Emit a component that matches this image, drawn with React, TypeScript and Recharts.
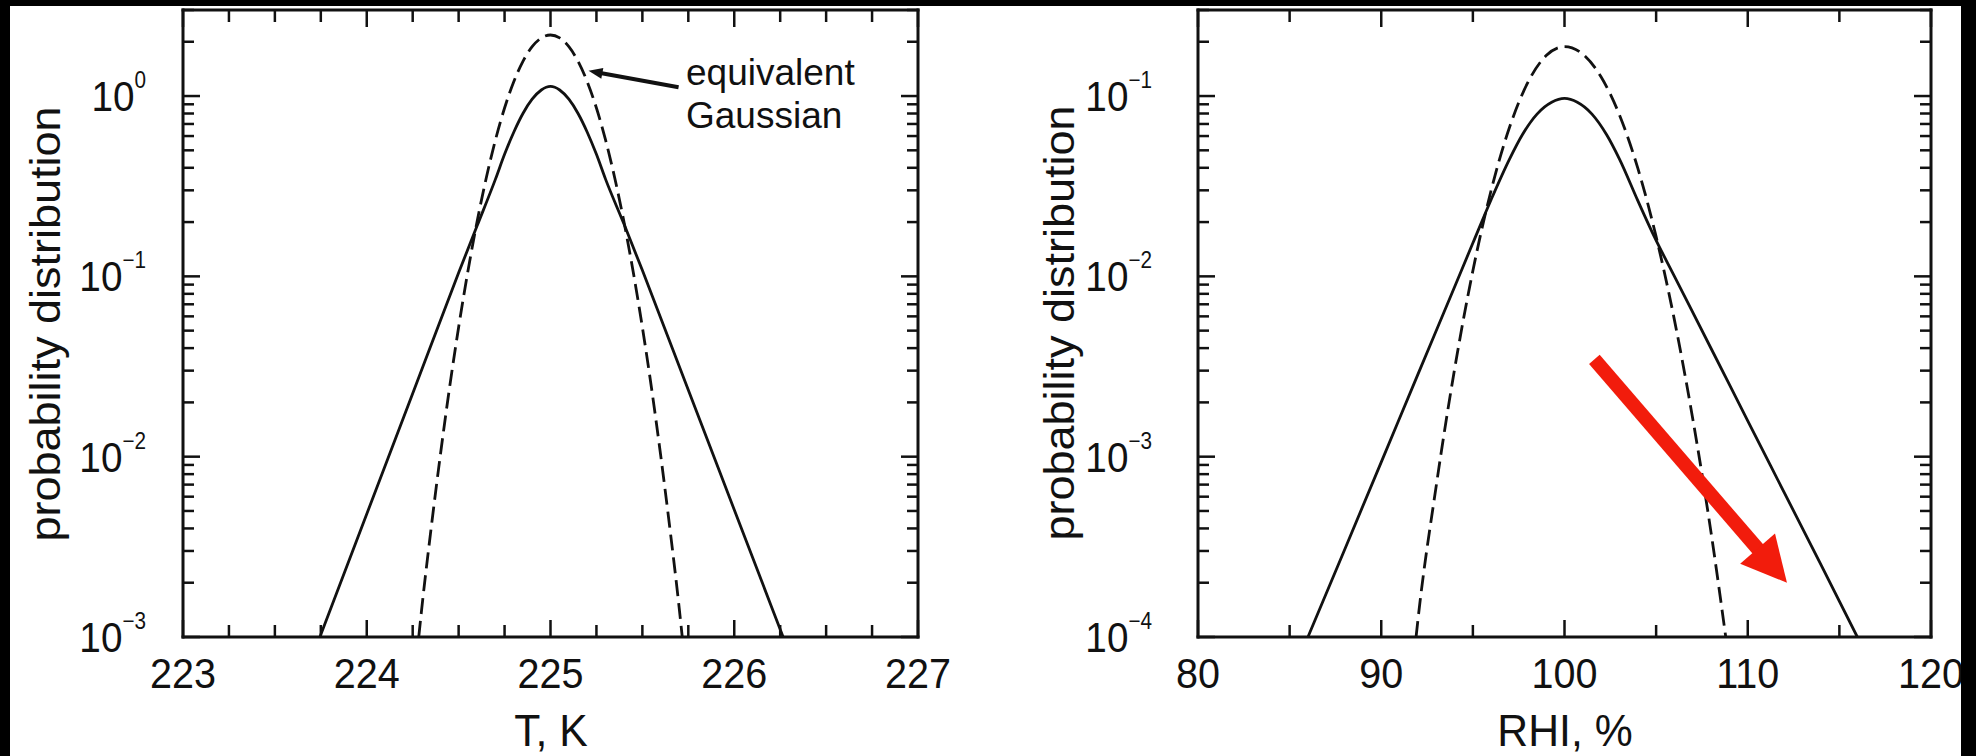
import { LineChart, Line, XAxis, YAxis, ReferenceLine } from "recharts";

// ---- data ----
const tTicks = [223, 223.25, 223.5, 223.75, 224, 224.25, 224.5, 224.75, 225, 225.25, 225.5, 225.75, 226, 226.25, 226.5, 226.75, 227];
const tYTicks = [0.001, 0.002, 0.003, 0.004, 0.005, 0.006, 0.007, 0.008, 0.009, 0.01, 0.02, 0.03, 0.04, 0.05, 0.06, 0.07, 0.08, 0.09, 0.1, 0.2, 0.3, 0.4, 0.5, 0.6, 0.7, 0.8, 0.9, 1, 2, 3];

const tSolidX = [223.745, 224.0, 224.25, 224.5, 224.6, 224.7, 224.75, 224.8, 224.85, 224.9, 224.95, 225.0, 225.05, 225.1, 225.15, 225.2, 225.25, 225.3, 225.4, 225.5, 225.75, 226.0, 226.266];
const tSolidP = [0.001, 0.00481, 0.0224, 0.1047, 0.19, 0.345, 0.475, 0.63, 0.8, 0.96, 1.08, 1.13, 1.08, 0.96, 0.8, 0.63, 0.475, 0.345, 0.195, 0.108, 0.0234, 0.00508, 0.001];

const tGaussX = [224.283, 224.3, 224.35, 224.4, 224.45, 224.5, 224.55, 224.6, 224.65, 224.7, 224.75, 224.8, 224.85, 224.9, 224.95, 225.0, 225.05, 225.1, 225.15, 225.2, 225.25, 225.3, 225.35, 225.4, 225.45, 225.5, 225.55, 225.6, 225.65, 225.7, 225.717];
const tGaussP = [0.001, 0.00146, 0.00398, 0.0101, 0.0239, 0.0522, 0.106, 0.2, 0.35, 0.569, 0.858, 1.2, 1.558, 1.878, 2.1, 2.18, 2.1, 1.878, 1.558, 1.2, 0.858, 0.569, 0.35, 0.2, 0.106, 0.0522, 0.0239, 0.0101, 0.00398, 0.00146, 0.001];

const rTicks = [80, 85, 90, 95, 100, 105, 110, 115, 120];
const rYTicks = [0.0001, 0.0002, 0.0003, 0.0004, 0.0005, 0.0006, 0.0007, 0.0008, 0.0009, 0.001, 0.002, 0.003, 0.004, 0.005, 0.006, 0.007, 0.008, 0.009, 0.01, 0.02, 0.03, 0.04, 0.05, 0.06, 0.07, 0.08, 0.09, 0.1, 0.2, 0.3];

const rSolidX = [86.0, 88, 90, 92, 94, 95, 96, 97, 97.7, 98.5, 99.3, 100, 100.7, 101.5, 102.3, 103, 104, 104.9, 106, 108, 110, 112, 114, 115.98];
const rSolidP = [0.0001, 0.000305, 0.000933, 0.00286, 0.00873, 0.0153, 0.0267, 0.0447, 0.061, 0.0794, 0.0923, 0.097, 0.0923, 0.0794, 0.061, 0.0447, 0.0263, 0.0166, 0.01, 0.00398, 0.00158, 0.00063, 0.000251, 0.0001];

const rGaussX = [91.9, 92, 93, 94, 95, 96, 97, 98, 99, 100, 101, 102, 103, 104, 105, 106, 107, 108, 108.8];
const rGaussP = [0.0001, 0.000124, 0.000689, 0.00305, 0.01075, 0.0301, 0.0671, 0.1189, 0.1677, 0.188, 0.1706, 0.1275, 0.0785, 0.0398, 0.0166, 0.00572, 0.00162, 0.000378, 0.0001];

const zip = (xs: number[], ps: number[]) => xs.map((x, i) => ({ x, p: ps[i] }));

const FONT = "'Liberation Sans', Arial, Helvetica, sans-serif";
const INK = "#111";
const AXIS = { stroke: INK, strokeWidth: 3, strokeLinecap: "square" as const };

const isDecade = (v: number) => {
  const e = Math.log10(v);
  return Math.abs(e - Math.round(e)) < 1e-6;
};

function xTick(majorEvery: number, dir: 1 | -1, label: boolean) {
  return (props: any) => {
    const { x, y, payload } = props;
    const v = payload.value as number;
    const major = Math.abs(v / majorEvery - Math.round(v / majorEvery)) < 1e-6;
    const len = major ? 17 : 12;
    return (
      <g>
        <line x1={x} x2={x} y1={y} y2={y - dir * len} stroke={INK} strokeWidth={2.5} />
        {label && major && (
          <text transform={`translate(${x},${y + 51}) scale(0.92,1)`} textAnchor="middle" fontSize={43} fontFamily={FONT} fill={INK}>
            {v}
          </text>
        )}
      </g>
    );
  };
}

function yTick(side: "left" | "right", gap: number) {
  return (props: any) => {
    const { x, y, payload } = props;
    const v = payload.value as number;
    const major = isDecade(v);
    const len = major ? 17 : 11;
    const d = side === "left" ? 1 : -1;
    const exp = Math.round(Math.log10(v));
    return (
      <g>
        <line x1={x} x2={x + d * len} y1={y} y2={y} stroke={INK} strokeWidth={2.5} />
        {side === "left" && major && (
          <text transform={`translate(${x - gap},${y + 15}) scale(0.9,1)`} textAnchor="end" fontSize={43} fontFamily={FONT} fill={INK}>
            <tspan>10</tspan>
            <tspan dy={-23} fontSize={23}>{exp < 0 ? `\u2212${-exp}` : `${exp}`}</tspan>
          </text>
        )}
      </g>
    );
  };
}

function arrowShape(color: string, w: number, headLen: number, headW: number) {
  return (props: any) => {
    const { x1, y1, x2, y2 } = props;
    const dx = x2 - x1;
    const dy = y2 - y1;
    const L = Math.hypot(dx, dy) || 1;
    const ux = dx / L, uy = dy / L;
    const px = -uy, py = ux;
    const bx = x2 - ux * headLen, by = y2 - uy * headLen;
    return (
      <g>
        <line x1={x1} y1={y1} x2={bx + ux * 2} y2={by + uy * 2} stroke={color} strokeWidth={w} />
        <polygon
          points={`${x2},${y2} ${bx + (px * headW) / 2},${by + (py * headW) / 2} ${bx - (px * headW) / 2},${by - (py * headW) / 2}`}
          fill={color}
        />
      </g>
    );
  };
}

function Panel(props: {
  xDomain: [number, number];
  xTicks: number[];
  majorEvery: number;
  yDomain: [number, number];
  yTicks: number[];
  leftW: number;
  rightW: number;
  labelGap: number;
  solid: { x: number; p: number }[];
  gauss: { x: number; p: number }[];
  arrow: { from: { x: number; y: number }; to: { x: number; y: number }; color: string; w: number; hl: number; hw: number };
}) {
  const { xDomain, xTicks, majorEvery, yDomain, yTicks, leftW, rightW, labelGap, solid, gauss, arrow } = props;
  return (
    <LineChart width={988} height={756} margin={{ top: 0, right: 0, bottom: 0, left: 0 }}>
      <XAxis xAxisId="b" dataKey="x" type="number" domain={xDomain} allowDataOverflow ticks={xTicks} interval={0}
        tickSize={0} tickMargin={0} tickLine={false} axisLine={AXIS} height={119} tick={xTick(majorEvery, 1, true)} />
      <XAxis xAxisId="t" dataKey="x" type="number" orientation="top" domain={xDomain} allowDataOverflow ticks={xTicks} interval={0}
        tickSize={0} tickMargin={0} tickLine={false} axisLine={AXIS} height={10} tick={xTick(majorEvery, -1, false)} />
      <YAxis yAxisId="l" type="number" scale="log" domain={yDomain} allowDataOverflow ticks={yTicks} interval={0}
        tickSize={0} tickMargin={0} tickLine={false} axisLine={AXIS} width={leftW} tick={yTick("left", labelGap)} />
      <YAxis yAxisId="r" type="number" scale="log" orientation="right" domain={yDomain} allowDataOverflow ticks={yTicks} interval={0}
        tickSize={0} tickMargin={0} tickLine={false} axisLine={AXIS} width={rightW} tick={yTick("right", 0)} />
      <Line xAxisId="b" yAxisId="l" data={solid} dataKey="p" type="monotone" stroke={INK} strokeWidth={2.8} dot={false} isAnimationActive={false} />
      <Line xAxisId="t" yAxisId="r" data={gauss} dataKey="p" type="monotone" stroke={INK} strokeWidth={2.8} strokeDasharray="16 7" dot={false} isAnimationActive={false} />
      <ReferenceLine xAxisId="b" yAxisId="l" segment={[arrow.from, arrow.to]} ifOverflow="visible"
        shape={arrowShape(arrow.color, arrow.w, arrow.hl, arrow.hw)} />
    </LineChart>
  );
}

export default function App() {
  return (
    <div style={{ position: "absolute", left: 0, top: 0, width: 1976, height: 756, background: "#000", overflow: "hidden" }}>
      <div style={{ position: "absolute", left: 10, top: 6, width: 1951, height: 750, background: "#fff" }} />
      <div style={{ position: "absolute", left: 0, top: 0 }}>
        <Panel
          xDomain={[223, 227]} xTicks={tTicks} majorEvery={1}
          yDomain={[0.001, 3]} yTicks={tYTicks}
          leftW={183} rightW={70} labelGap={37}
          solid={zip(tSolidX, tSolidP)} gauss={zip(tGaussX, tGaussP)}
          arrow={{ from: { x: 225.697, y: 1.12 }, to: { x: 225.207, y: 1.38 }, color: INK, w: 4, hl: 14, hw: 11 }}
        />
      </div>
      <div style={{ position: "absolute", left: 988, top: 0 }}>
        <Panel
          xDomain={[80, 120]} xTicks={rTicks} majorEvery={10}
          yDomain={[0.0001, 0.3]} yTicks={rYTicks}
          leftW={210} rightW={45} labelGap={46}
          solid={zip(rSolidX, rSolidP)} gauss={zip(rGaussX, rGaussP)}
          arrow={{ from: { x: 101.63, y: 0.003467 }, to: { x: 112.14, y: 0.0002 }, color: "#f21c0c", w: 14, hl: 45, hw: 46 }}
        />
      </div>
      <svg width={1976} height={756} style={{ position: "absolute", left: 0, top: 0, pointerEvents: "none" }} fontFamily={FONT} fill={INK}>
        <text transform="translate(60,324) rotate(-90) scale(1,0.94)" textAnchor="middle" fontSize={45}>probability distribution</text>
        <text transform="translate(1074,323) rotate(-90) scale(1,0.94)" textAnchor="middle" fontSize={45}>probability distribution</text>
        <text transform="translate(551,746) scale(0.95,1)" textAnchor="middle" fontSize={45}>T, K</text>
        <text transform="translate(1565,746) scale(0.95,1)" textAnchor="middle" fontSize={45}>RHI, %</text>
        <text x={686} y={85} fontSize={37}>equivalent</text>
        <text x={686} y={128} fontSize={37}>Gaussian</text>
      </svg>
      <div style={{ position: "absolute", left: 1961, top: 0, width: 15, height: 756, background: "#000" }} />
    </div>
  );
}
